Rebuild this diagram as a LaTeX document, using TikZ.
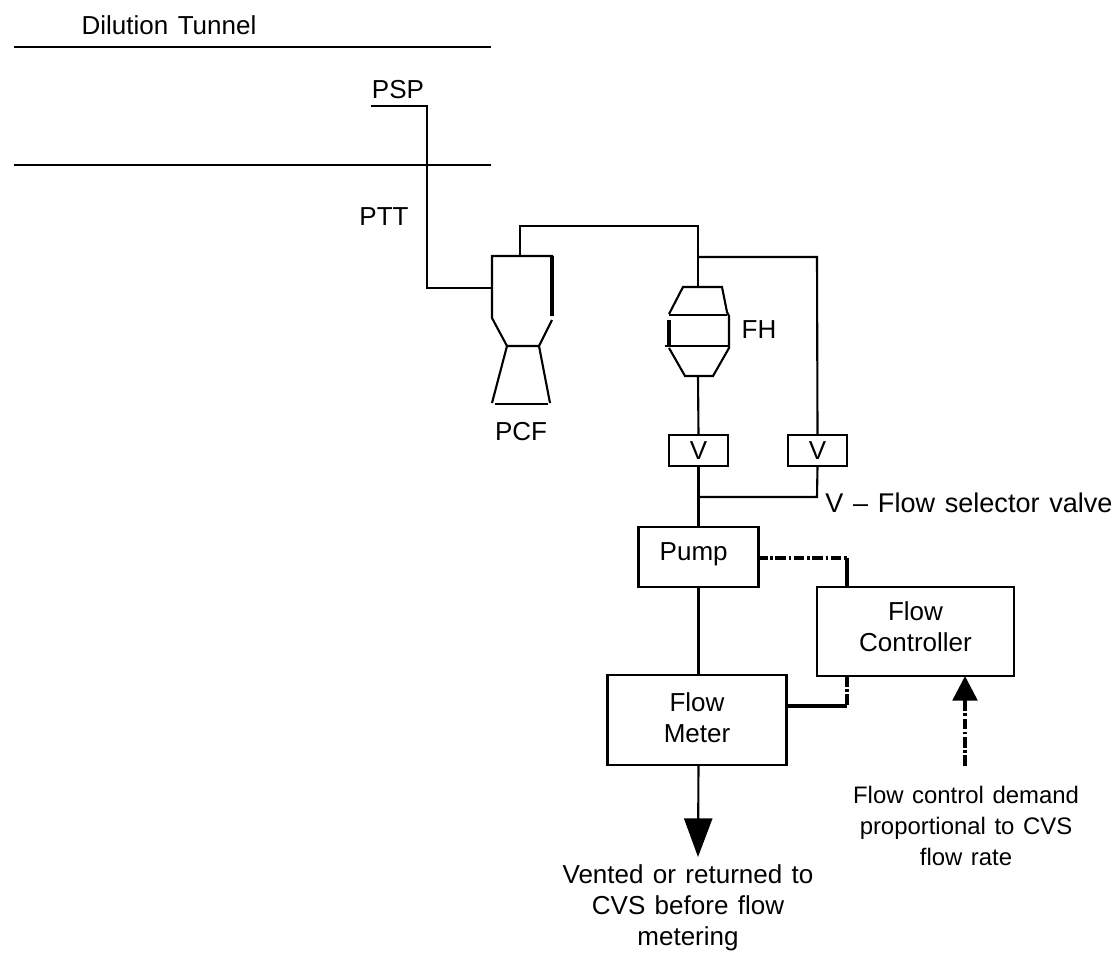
\documentclass[tikz,border=0pt]{standalone}
\usepackage{fontspec}
\setmainfont[WordSpace=1.3]{Liberation Sans}
\usetikzlibrary{positioning, arrows.meta, calc}
\tikzset{
  unitbox/.style={rectangle, draw=black, line width=1.2pt, align=center, inner sep=0pt, outer sep=0pt},
  valvebox/.style={unitbox, minimum width=1.18cm, minimum height=0.62cm},
  label/.style={inner sep=0pt, align=center},
  pipe/.style={line width=1.2pt, line join=miter},
  heavy/.style={line width=2.2pt},
  signal/.style={line width=2pt, dash pattern=on 6pt off 1.5pt on 1.5pt off 1.5pt},
  ventarrow/.style={pipe, -{Triangle[width=16pt,length=22pt]}},
  demandarrow/.style={signal, -{Triangle[width=14pt,length=14pt]}}
}
\begin{document}
\begin{tikzpicture}[x=0.02cm, y=-0.02cm, node distance=1.22cm, every node/.style={font=\fontsize{14.8}{17.6}\selectfont}]
        \useasboundingbox (0,0) rectangle (1115,953);

        % tunnel and probe
        \coordinate (wallTopL) at (14,47);
        \coordinate (wallTopR) at (491,47);
        \coordinate (wallLowL) at (14,165);
        \coordinate (wallLowR) at (491,165);
        \coordinate (probeTip) at (371,106);
        \coordinate (probeBend) at (427,106);
        \coordinate (pcfInlet) at (492,288);
        \node (tunnel) [label] at (169,25) {Dilution Tunnel};
        \node (psp) [label] at (398,90) {PSP};
        \node (ptt) [label] at (384,217) {PTT};
        \draw [pipe] (wallTopL) -- (wallTopR);
        \draw [pipe] (wallLowL) -- (wallLowR);
        \draw [pipe] (probeTip) -- (probeBend) |- (pcfInlet);

        % filter holder and the valves
        \node (valveA) [valvebox] at (698.5,450.5) {V};
        \node (valveB) [valvebox] at (817.5,450.5) {V};
        \node (pump) [unitbox, below=of valveA, minimum width=2.4cm, minimum height=1.2cm, text depth=0.24cm, text height=0.4cm] {Pump\kern 5.5pt};
        \node (meter) [unitbox, below=1.76cm of pump.south, anchor=north, xshift=-0.03cm, minimum width=3.58cm, minimum height=1.8cm, text depth=0.1cm] {Flow\\Meter};
        \node (ctrl) [unitbox, minimum width=3.94cm, minimum height=1.78cm, text depth=0.2cm] at (915.5,631.5) {Flow\\Controller};
        \node (fh) [label] at (759,330) {FH};
        \node (pcf) [label] at (521,432) {PCF};
        \node (sel) [label, anchor=west, font=\fontsize{15.4}{17.6}\selectfont] at (825,503) {V -- Flow selector valve};
        \node (vent) [label] at (688,908) {Vented or returned to\\CVS before flow\\metering};
        \node (demand) [label, font=\fontsize{13.6}{17.6}\selectfont] at (966,826) {Flow control demand\\proportional to CVS\\flow rate};

        % particle filter and holder outlines
        \coordinate (pcfTop) at (520,256);
        \coordinate (pcfStem) at (520,226);
        \coordinate (fhTop) at (698,287);
        \coordinate (fhLow) at (698,376);
        \coordinate (branch) at (698,257);
        \coordinate (bypass) at (817,257);
        \coordinate (ventTip) at (698,857);
        \coordinate (joint) at (698,497);
        \coordinate (jointB) at (817,497);
        \coordinate (pumpTap) at (757,558);
        \coordinate (pumpBend) at (847,558);
        \coordinate (ctrlTap) at (847,587);
        \coordinate (meterBend) at (847,706);
        \coordinate (ctrlLow) at (847,676);
        \coordinate (demandTail) at (965,766);

        \draw [pipe] (552,316) -- (552,256) -- (492,256) -- (492,318) -- (507,346) -- (539,346) -- (552,320);
        \draw [heavy] (552,256) -- (552,316);
        \draw [pipe] (507,346) -- (492,403);
        \draw [pipe] (539,346) -- (550,403);
        \draw [pipe] (495,404) -- (548,404);
        \draw [pipe] (669,314) -- (683,287) -- (722,287) -- (727,312) -- (729,316) -- (729,348) -- (713,376) -- (685,376) -- (669,348);
        \draw [pipe] (669,315) -- (727,315);
        \draw [pipe] (665,346) -- (729,346);
        \draw [heavy] (669,320) -- (669,346);

        % connections
        \draw [pipe] (pcfTop) -- (pcfStem) -| (fhTop);
        \draw [pipe] (branch) -- (bypass) -- (valveB.north);
        \draw [pipe] (fhLow) -- (valveA.north);
        \draw [pipe] (valveA.south) -- (pump.north);
        \draw [pipe] (valveB.south) -- (jointB) -- (joint);
        \draw [pipe] (pump.south) -- (pump.south |- meter.north);
        \draw [ventarrow] (pump.south |- meter.south) -- (ventTip);
        \draw [signal] (pumpTap) -- (pumpBend);
        \draw [heavy] (pumpBend) -- (ctrlTap);
        \draw [signal] (ctrlLow) -- (meterBend);
        \draw [heavy] (meterBend) -- (meter.east |- meterBend);
        \draw [demandarrow] (demandTail) -- (demandTail |- ctrl.south);
\end{tikzpicture}
\end{document}
